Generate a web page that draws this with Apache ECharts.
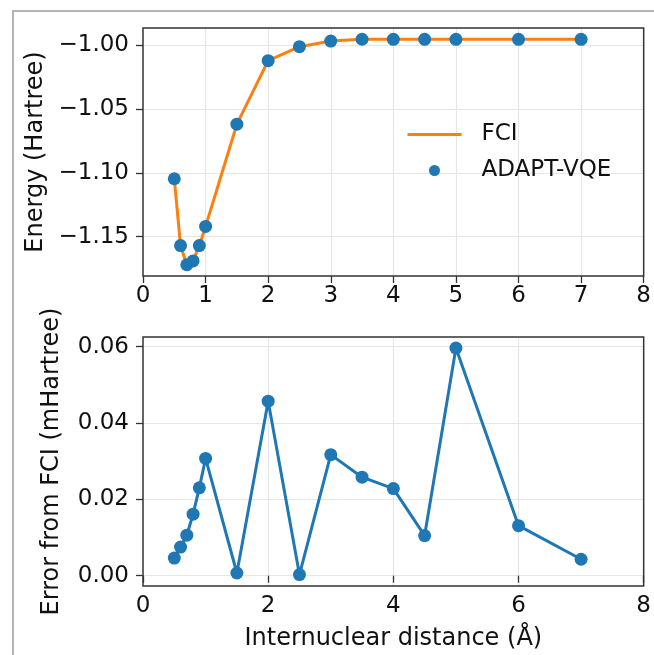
<!DOCTYPE html>
<html>
<head>
<meta charset="utf-8">
<script src="https://cdn.jsdelivr.net/npm/echarts@6/dist/echarts.min.js"></script>
<style>
  html, body { margin: 0; padding: 0; background: #fff; }
  #chart { position: absolute; left: 0; top: 0; width: 654px; height: 655px; }
  .frame {
    position: absolute; left: 12px; top: 10px; right: 0; bottom: 0;
    border-left: 2px solid #b4b4b4; border-top: 2px solid #b4b4b4;
    pointer-events: none;
  }
</style>
</head>
<body>
<div id="chart"></div>
<div class="frame"></div>
<script>
// internuclear distance (Å)
const distances = [0.5, 0.6, 0.7, 0.8, 0.9, 1.0, 1.5, 2.0, 2.5, 3.0, 3.5, 4.0, 4.5, 5.0, 6.0, 7.0]
// energies (Hartree)
const fciEnergy = [-1.1047, -1.1570, -1.1720, -1.1690, -1.1570, -1.1420, -1.0620, -1.0123,
  -1.0013, -0.9969, -0.9955, -0.9956, -0.9956, -0.9956, -0.9956, -0.9956]
const adaptEnergy = [-1.1047, -1.1570, -1.1720, -1.1690, -1.1570, -1.1420, -1.0620, -1.0123,
  -1.0013, -0.9969, -0.9955, -0.9956, -0.9956, -0.9956, -0.9956, -0.9956]
// error from FCI (mHartree), bottom panel
const errorFci = [0.0046, 0.0075, 0.0106, 0.0161, 0.0230, 0.0307, 0.0007, 0.0457,
  0.0003, 0.0317, 0.0258, 0.0228, 0.0105, 0.0596, 0.0131, 0.0043]

const energyTicks = [-1.15, -1.10, -1.05, -1.00]
const errorTicks = [0, 0.02, 0.04, 0.06]

const font = 'DejaVu Sans'
const axisColor = '#333'
const gridColor = '#e6e6e6'

function pairs(xs, ys) {
  return xs.map((x, i) => [x, ys[i]])
}

function xAxis(gridIndex, interval, name) {
  return {
    type: 'value',
    gridIndex: gridIndex,
    min: 0,
    max: 8,
    interval: interval,
    name: name,
    nameLocation: 'middle',
    nameGap: 41,
    nameTextStyle: { fontFamily: font, fontSize: 24, color: '#111' },
    axisLine: { show: false },
    axisTick: { show: true, inside: false, length: 7, lineStyle: { color: axisColor, width: 1.3 } },
    axisLabel: { margin: 9, fontFamily: font, fontSize: 23, color: '#111' },
    splitLine: { show: true, showMinLine: false, showMaxLine: false, lineStyle: { color: gridColor, width: 1.2 } }
  }
}

function yAxis(gridIndex, min, max, ticks, name) {
  return {
    type: 'value',
    gridIndex: gridIndex,
    min: min,
    max: max,
    name: name,
    nameLocation: 'middle',
    nameGap: 79,
    nameTextStyle: { fontFamily: font, fontSize: 24, color: '#111' },
    axisLine: { show: false },
    axisTick: {
      show: true, inside: false, length: 7, customValues: ticks,
      lineStyle: { color: axisColor, width: 1.3 }
    },
    axisLabel: {
      margin: 14, fontFamily: font, fontSize: 23, color: '#111', customValues: ticks,
      formatter: v => v.toFixed(2).replace('-', '\u2212')
    },
    splitLine: { show: true, lineStyle: { color: gridColor, width: 1.2 } }
  }
}

const chart = echarts.init(document.getElementById('chart'), null, { renderer: 'canvas' })

chart.setOption({
  animation: false,
  backgroundColor: 'transparent',
  grid: [
    { left: 143, top: 28, width: 502, height: 248, show: true, borderColor: axisColor, borderWidth: 1.5, z: 5 },
    { left: 143, top: 337, width: 502, height: 249, show: true, borderColor: axisColor, borderWidth: 1.5, z: 5 }
  ],
  xAxis: [
    xAxis(0, 1, ''),
    xAxis(1, 2, 'Internuclear distance (Å)')
  ],
  yAxis: [
    yAxis(0, -1.1808, -0.9867, energyTicks, 'Energy (Hartree)'),
    yAxis(1, -0.0027, 0.0625, errorTicks, 'Error from FCI (mHartree)')
  ],
  legend: {
    data: [
      { name: 'FCI', itemStyle: { opacity: 0 }, lineStyle: { width: 3, color: '#ff7f0e' } },
      { name: 'ADAPT-VQE', itemStyle: { opacity: 1, color: '#1f77b4' } }
    ],
    orient: 'vertical',
    left: 401,
    top: 118,
    itemWidth: 54,
    itemHeight: 11,
    itemGap: 13,
    textStyle: { fontFamily: font, fontSize: 23, color: '#111', padding: [0, 0, 0, 15] }
  },
  series: [
    {
      name: 'FCI',
      type: 'line',
      xAxisIndex: 0,
      yAxisIndex: 0,
      symbol: 'none',
      color: '#ff7f0e',
      lineStyle: { color: '#ff7f0e', width: 3 },
      data: pairs(distances, fciEnergy),
      z: 2
    },
    {
      name: 'ADAPT-VQE',
      type: 'scatter',
      xAxisIndex: 0,
      yAxisIndex: 0,
      symbol: 'circle',
      symbolSize: 13,
      itemStyle: { color: '#1f77b4', opacity: 1 },
      data: pairs(distances, adaptEnergy),
      z: 3
    },
    {
      name: 'Error',
      type: 'line',
      xAxisIndex: 1,
      yAxisIndex: 1,
      symbol: 'circle',
      symbolSize: 13,
      showAllSymbol: true,
      itemStyle: { color: '#1f77b4' },
      lineStyle: { color: '#1f77b4', width: 3 },
      data: pairs(distances, errorFci)
    }
  ]
})
</script>
</body>
</html>
